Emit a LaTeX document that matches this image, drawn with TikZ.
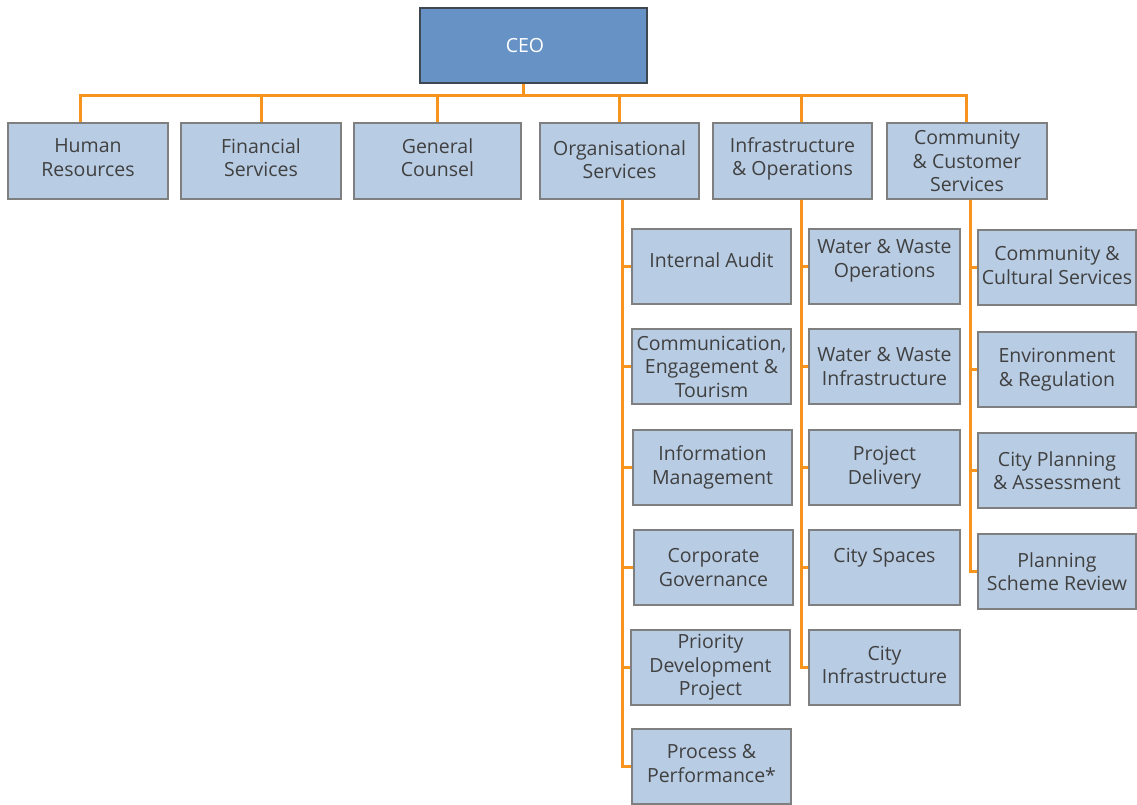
\documentclass[tikz,border=0pt]{standalone}
\usepackage{fontspec}
\setmainfont{Open Sans}
\definecolor{boxfill}{HTML}{B8CCE4}
\definecolor{boxline}{HTML}{7F7F7F}
\definecolor{ceofill}{HTML}{6692C5}
\definecolor{ceoline}{HTML}{3F4750}
\definecolor{conncol}{HTML}{F7941D}
\definecolor{txt}{HTML}{404040}
\newcommand{\lift}[1]{\rule[-#1pt]{0pt}{0pt}}
\begin{document}
\begin{tikzpicture}[x=1pt,y=-1pt,
  box/.style={draw=boxline,line width=1.4pt,fill=boxfill,align=center,inner sep=0pt,
    text=txt,font=\fontsize{19.5}{23.5}\selectfont},
  ceobox/.style={draw=ceoline,line width=1.4pt,fill=ceofill,align=center,inner sep=0pt,
    text=white,font=\fontsize{19.5}{23.5}\selectfont},
  conn/.style={draw=conncol,line width=3pt}]
\useasboundingbox (0,0) rectangle (1137,805);
% CEO
\node[ceobox,minimum width=227pt,minimum height=75pt] (ceo) at (533.5,45.5) {CEO\hspace*{17pt}};
% top row
\node[box,minimum width=160pt,minimum height=76pt] (hr) at (88,161) {Human\\Resources\lift{7}};
\node[box,minimum width=160pt,minimum height=76pt] (fin) at (261,161) {Financial\\Services\lift{7}};
\node[box,minimum width=167pt,minimum height=76pt] (gc) at (437.5,161) {General\\Counsel\lift{7}};
\node[box,minimum width=159pt,minimum height=76pt] (org) at (619.5,161) {Organisational\\Services\lift{3}};
\node[box,minimum width=159pt,minimum height=76pt] (inf) at (792.5,161) {Infrastructure\\\& Operations\lift{9}};
\node[box,minimum width=160pt,minimum height=76pt] (com) at (967,161) {Community\\\& Customer\\Services};
% Organisational children
\node[box,minimum width=159pt,minimum height=75pt] (ia) at (711.5,266.5) {Internal Audit\lift{13}};
\node[box,minimum width=159pt,minimum height=75pt] (cet) at (711.5,366.5) {Communication,\\Engagement \&\\Tourism};
\node[box,minimum width=159pt,minimum height=75pt] (im) at (712.5,467.5) {Information\\Management};
\node[box,minimum width=159pt,minimum height=75pt] (cg) at (713.5,567.5) {Corporate\\Governance};
\node[box,minimum width=159pt,minimum height=75pt] (pdp) at (710.5,667.5) {Priority\\Development\\Project};
\node[box,minimum width=159pt,minimum height=75pt] (pp) at (711.5,766.5) {Process \&\\Performance*\lift{6}};
% Infrastructure children
\node[box,minimum width=151pt,minimum height=75pt] (wwo) at (884.5,266.5) {Water \& Waste\\Operations\lift{16}};
\node[box,minimum width=151pt,minimum height=75pt] (wwi) at (884.5,366.5) {Water \& Waste\\Infrastructure};
\node[box,minimum width=151pt,minimum height=75pt] (pd) at (884.5,467.5) {Project\\Delivery};
\node[box,minimum width=151pt,minimum height=75pt] (cs) at (884.5,567.5) {City Spaces\lift{25}};
\node[box,minimum width=151pt,minimum height=75pt] (ci) at (884.5,667.5) {City\\Infrastructure\lift{5}};
% Community children
\node[box,minimum width=158pt,minimum height=75pt] (ccs) at (1057,267.5) {Community \&\\Cultural Services\lift{4}};
\node[box,minimum width=158pt,minimum height=75pt] (er) at (1057,369.5) {Environment\\\& Regulation};
\node[box,minimum width=158pt,minimum height=75pt] (cpa) at (1057,470.5) {City Planning\\\& Assessment};
\node[box,minimum width=158pt,minimum height=75pt] (psr) at (1057,571.5) {Planning\\Scheme Review};
% bus
\coordinate (bus) at (523,96);
\draw[conn] ([xshift=-10.5pt]ceo.south) -- ([xshift=-10.5pt]ceo.south |- bus);
\draw[conn] ([xshift=-8pt]hr.north) |- (bus) -| ([xshift=-1pt]com.north);
\draw[conn] (fin.north) -- (fin.north |- bus);
\draw[conn] (gc.north) -- (gc.north |- bus);
\draw[conn] (org.north) -- (org.north |- bus);
\draw[conn] ([xshift=8.5pt]inf.north) -- ([xshift=8.5pt]inf.north |- bus);
% Organisational column
\draw[conn] ([xshift=2.5pt]org.south) |- (pp.west);
\foreach \c in {ia,cet,im,cg,pdp} \draw[conn] ([xshift=2.5pt]org.south) |- (\c.west);
% Infrastructure column
\draw[conn] ([xshift=8.5pt]inf.south) |- (ci.west);
\foreach \c in {wwo,wwi,pd,cs} \draw[conn] ([xshift=8.5pt]inf.south) |- (\c.west);
% Community column
\draw[conn] ([xshift=3pt]com.south) |- (psr.west);
\foreach \c in {ccs,er,cpa} \draw[conn] ([xshift=3pt]com.south) |- (\c.west);
\end{tikzpicture}
\end{document}
